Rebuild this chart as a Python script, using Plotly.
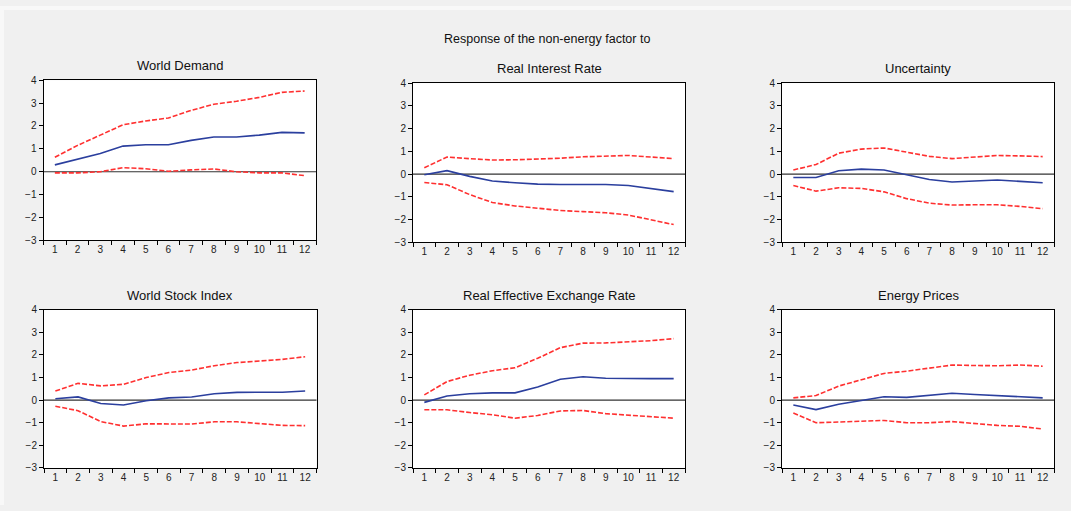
import plotly.graph_objects as go

periods = list(range(1, 13))

titles = ["World Demand", "Real Interest Rate", "Uncertainty",
          "World Stock Index", "Real Effective Exchange Rate", "Energy Prices"]

world_demand_mid = [0.30, 0.55, 0.80, 1.12, 1.18, 1.18, 1.37, 1.52, 1.52, 1.60, 1.72, 1.70]
world_demand_up = [0.63, 1.15, 1.60, 2.05, 2.22, 2.35, 2.68, 2.95, 3.08, 3.25, 3.47, 3.53]
world_demand_lo = [-0.05, -0.05, 0.00, 0.18, 0.13, 0.02, 0.08, 0.12, 0.00, -0.05, -0.05, -0.17]

interest_mid = [-0.03, 0.15, -0.10, -0.30, -0.38, -0.44, -0.46, -0.46, -0.46, -0.50, -0.65, -0.77]
interest_up = [0.28, 0.75, 0.68, 0.62, 0.63, 0.65, 0.70, 0.76, 0.80, 0.82, 0.75, 0.68]
interest_lo = [-0.37, -0.47, -0.90, -1.25, -1.40, -1.50, -1.60, -1.65, -1.70, -1.80, -2.00, -2.22]

uncert_mid = [-0.15, -0.15, 0.15, 0.22, 0.18, -0.03, -0.24, -0.35, -0.30, -0.26, -0.32, -0.38]
uncert_up = [0.18, 0.42, 0.92, 1.10, 1.15, 0.98, 0.78, 0.68, 0.75, 0.82, 0.80, 0.77]
uncert_lo = [-0.50, -0.75, -0.60, -0.63, -0.78, -1.08, -1.28, -1.36, -1.35, -1.35, -1.42, -1.52]

stock_mid = [0.06, 0.14, -0.15, -0.22, -0.03, 0.10, 0.14, 0.28, 0.34, 0.34, 0.35, 0.40]
stock_up = [0.40, 0.74, 0.63, 0.70, 1.00, 1.22, 1.33, 1.52, 1.66, 1.74, 1.80, 1.92]
stock_lo = [-0.27, -0.47, -0.95, -1.15, -1.05, -1.05, -1.06, -0.96, -0.96, -1.04, -1.12, -1.13]

reer_mid = [-0.10, 0.18, 0.28, 0.32, 0.32, 0.58, 0.92, 1.03, 0.97, 0.95, 0.95, 0.95]
reer_up = [0.23, 0.82, 1.10, 1.30, 1.43, 1.85, 2.32, 2.52, 2.53, 2.57, 2.63, 2.72]
reer_lo = [-0.43, -0.43, -0.55, -0.65, -0.80, -0.68, -0.48, -0.46, -0.60, -0.66, -0.73, -0.80]

energy_mid = [-0.22, -0.42, -0.18, -0.02, 0.15, 0.12, 0.20, 0.30, 0.25, 0.20, 0.18, 0.10]
energy_up = [0.10, 0.20, 0.62, 0.90, 1.18, 1.28, 1.40, 1.55, 1.53, 1.52, 1.55, 1.50]
energy_lo = [-0.57, -1.00, -0.97, -0.93, -0.90, -1.00, -1.00, -0.95, -1.03, -1.12, -1.16, -1.28]

y_ticks = [-3, -2, -1, 0, 1, 2, 3, 4]

panels = [
    (world_demand_mid, world_demand_up, world_demand_lo),
    (interest_mid, interest_up, interest_lo),
    (uncert_mid, uncert_up, uncert_lo),
    (stock_mid, stock_up, stock_lo),
    (reer_mid, reer_up, reer_lo),
    (energy_mid, energy_up, energy_lo),
]

W, H = 1071, 511
# pixel boxes (left, right, top, bottom)
boxes = [
    (43.5, 316, 76, 240),
    (413, 685, 79, 242),
    (782, 1054, 79, 242),
    (44, 316.5, 311, 473),
    (413, 685, 311, 473),
    (782, 1054, 311, 473),
]

BLUE = "#2b3f9e"
RED = "#ff3030"
FONT = "Liberation Sans, Arial"

fig = go.Figure()
layout = {}
annotations = []
shapes = []
for i, ((mid, up, lo), (l, r, t, b), title) in enumerate(zip(panels, boxes, titles)):
    n = "" if i == 0 else str(i + 1)
    xa, ya = "x" + n, "y" + n
    for ser, col, dash in ((up, RED, "5px,2px"), (lo, RED, "5px,2px"), (mid, BLUE, "solid")):
        fig.add_trace(go.Scatter(x=periods, y=ser, mode="lines", xaxis=xa, yaxis=ya,
                                 line=dict(color=col, width=1.6, dash=dash),
                                 showlegend=False, hoverinfo="skip"))
    layout["xaxis" + n] = dict(
        domain=[l / W, r / W], anchor=ya, range=[0.5, 12.5],
        tickvals=periods, ticktext=[str(p) for p in periods], ticks="", ticklen=0,
        minor=dict(tickvals=[p + 0.5 for p in range(0, 13)], ticks="outside", ticklen=4,
                   tickcolor="black", tickwidth=1),
        showgrid=False, zeroline=False, showline=True, linecolor="black", linewidth=1,
        mirror=True, tickfont=dict(family=FONT, size=10, color="#222"),
        fixedrange=True,
    )
    layout["yaxis" + n] = dict(
        domain=[1 - b / H, 1 - t / H], anchor=xa, range=[-3, 4],
        tickvals=y_ticks, ticks="outside", ticklen=4, tickcolor="black",
        showgrid=False, zeroline=False, showline=True, linecolor="black", linewidth=1,
        mirror=True, tickfont=dict(family=FONT, size=10, color="#222"),
        fixedrange=True,
    )
    shapes.append(dict(type="line", xref=xa + " domain", yref=ya, x0=0, x1=1, y0=0, y1=0,
                       line=dict(color="#333333", width=1.2), layer="below"))
    annotations.append(dict(text=title, x=(l + r) / 2 / W, y=1 - (t - 5) / H,
                            xref="paper", yref="paper", xanchor="center", yanchor="bottom",
                            showarrow=False,
                            font=dict(family=FONT, size=13, color="#111")))

annotations.append(dict(text="Response of the non-energy factor to", x=547 / W, y=1 - 34 / H,
                        xref="paper", yref="paper", xanchor="center", yanchor="middle",
                        showarrow=False,
                        font=dict(family=FONT, size=12.5, color="#111")))

# thin lighter frame at the top and left edges, as in the reference
shapes.append(dict(type="rect", xref="paper", yref="paper", x0=0, x1=4 / W, y0=0, y1=1,
                   fillcolor="#f8f8f8", line=dict(width=0), layer="below"))
shapes.append(dict(type="rect", xref="paper", yref="paper", x0=0, x1=1, y0=1 - 4 / H, y1=1,
                   fillcolor="#f8f8f8", line=dict(width=0), layer="below"))

fig.update_layout(
    width=W, height=H, margin=dict(l=0, r=0, t=0, b=0),
    paper_bgcolor="#f0f0f0", plot_bgcolor="white",
    annotations=annotations, shapes=shapes, **layout,
)

fig.write_html("out.html")
